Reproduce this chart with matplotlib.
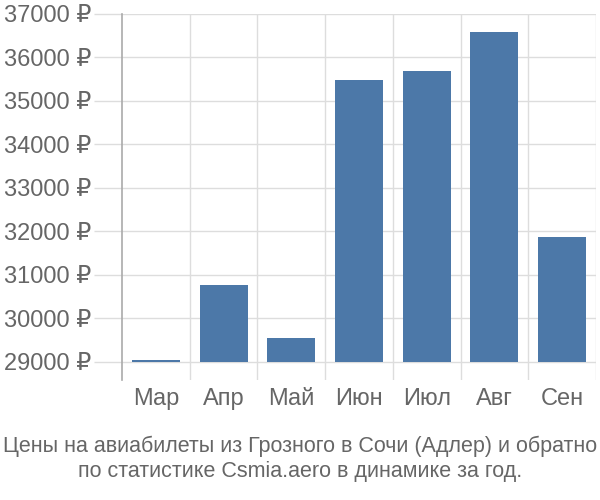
import matplotlib
matplotlib.use('Agg')
import matplotlib.pyplot as plt
import numpy as np

months = ['Мар', 'Апр', 'Май', 'Июн', 'Июл', 'Авг', 'Сен']
prices = [29045, 30770, 29550, 35480, 35690, 36590, 31880]
yticks = [29000, 30000, 31000, 32000, 33000, 34000, 35000, 36000, 37000]
base = 29000

plt.rcParams['font.family'] = ['Liberation Sans', 'DejaVu Sans']

fig = plt.figure(figsize=(6, 5), dpi=100)
ax = fig.add_axes([0.2033, 0.24, 0.79, 0.732])

x = np.arange(len(months))
ax.bar(x, np.array(prices) - base, bottom=base, width=0.71, color='#4c78a8', zorder=3)

ax.set_xlim(-0.5, len(months) - 0.5)
ax.set_ylim(28586, 37000)

# horizontal grid lines only at the labelled values
for v in yticks:
    ax.axhline(v, color='#dddddd', lw=1, zorder=1)
# vertical separators between months
for b in np.arange(0.5, len(months) - 0.5, 1):
    ax.axvline(b, color='#dddddd', lw=1, zorder=1)
ax.axvline(len(months) - 0.5, color='#dddddd', lw=1, zorder=1)

for s in ['top', 'right', 'bottom']:
    ax.spines[s].set_visible(False)
ax.spines['left'].set_color('#aaaaaa')
ax.spines['left'].set_linewidth(1.2)

ax.set_yticks(yticks)
ax.set_yticklabels([f'{v} ₽' for v in yticks])
ax.tick_params(axis='y', length=20, color='#dddddd', width=1, labelsize=17, labelcolor='#666666', pad=2)
ax.set_xticks(x)
ax.set_xticklabels(months)
ax.tick_params(axis='x', length=0, labelsize=17, labelcolor='#666666', pad=6)

fig.text(0.5, 0.083, 'Цены на авиабилеты из Грозного в Сочи (Адлер) и обратно\nпо статистике Csmia.aero в динамике за год.',
         ha='center', va='center', fontsize=15.5, color='#666666', linespacing=1.25)

plt.savefig('out.png', dpi=100)
